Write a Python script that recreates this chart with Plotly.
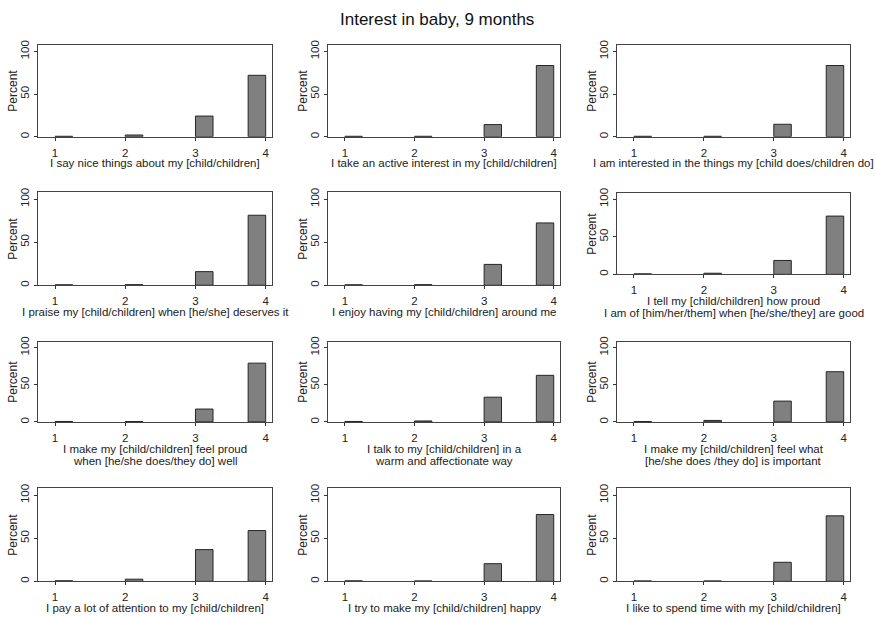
import plotly.graph_objects as go

# ---------------- data ----------------
chart_title = "Interest in baby, 9 months"
responses = [1, 2, 3, 4]
item_labels = [
    ["I say nice things about my [child/children]"],
    ["I take an active interest in my [child/children]"],
    ["I am interested in the things my [child does/children do]"],
    ["I praise my [child/children] when [he/she] deserves it"],
    ["I enjoy having my [child/children] around me"],
    ["I tell my [child/children] how proud", "I am of [him/her/them] when [he/she/they] are good"],
    ["I make my [child/children] feel proud", "when [he/she does/they do] well"],
    ["I talk to my [child/children] in a", "warm and affectionate way"],
    ["I make my [child/children] feel what", "[he/she does /they do] is important"],
    ["I pay a lot of attention to my [child/children]"],
    ["I try to make my [child/children] happy"],
    ["I like to spend time with my [child/children]"],
]
pct_resp1 = [0.5, 0.5, 0.5, 0.5, 0.5, 0.7, 0.6, 0.6, 0.5, 0.7, 0.6, 0.5]
pct_resp2 = [2.0, 0.5, 0.5, 0.7, 0.7, 1.5, 0.5, 1.3, 2.0, 2.5, 0.5, 0.5]
pct_resp3 = [24.2, 14.2, 14.6, 15.8, 24.2, 18.5, 17.3, 33.3, 28.0, 36.8, 20.5, 22.1]
pct_resp4 = [72.0, 83.5, 83.5, 81.2, 72.3, 77.5, 79.1, 62.7, 67.6, 58.9, 77.5, 76.0]
y_ticks = [0, 50, 100]

# histogram binning (Stata-style: start at min, width 0.25, 12 bins)
bin_start, bin_width, n_bins = 1.0, 0.25, 12


def bin_center(v):
    idx = min(int((v - bin_start) / bin_width), n_bins - 1)
    return bin_start + (idx + 0.5) * bin_width


# ---------------- layout geometry (pixels) ----------------
W, H = 875, 617
col_left = [38, 328, 617]
col_right = [272, 560, 850]
row_top = [40, 189, 340, 488]
row_bottom = [133, 283, 421, 582]
panel_bottom_override = {5: 272}
panel_top_override = {5: 190}

FONT = "Arial, Liberation Sans, sans-serif"
fig = go.Figure()
annotations = []

for i in range(12):
    r, c = divmod(i, 3)
    ax = "" if i == 0 else str(i + 1)
    top = panel_top_override.get(i, row_top[r])
    bottom = panel_bottom_override.get(i, row_bottom[r])
    vals = [pct_resp1[i], pct_resp2[i], pct_resp3[i], pct_resp4[i]]
    fig.add_trace(go.Bar(
        x=[bin_center(v) for v in responses], y=vals, width=bin_width,
        marker=dict(color="#808080", line=dict(color="#262626", width=1)),
        xaxis="x" + ax, yaxis="y" + ax, showlegend=False, hoverinfo="y",
    ))
    fig.layout["xaxis" + ax] = dict(
        domain=[col_left[c] / W, col_right[c] / W], anchor="y" + ax,
        range=[0.757, 4.09], tickvals=responses, ticks="outside", ticklen=3,
        ticklabelstandoff=2,
        tickcolor="#333", showline=True, linecolor="#444", mirror=True,
        showgrid=False, zeroline=False, fixedrange=True,
        tickfont=dict(family=FONT, size=11.5, color="#222"),
    )
    fig.layout["yaxis" + ax] = dict(
        domain=[1 - bottom / H, 1 - top / H], anchor="x" + ax,
        range=[0, 108], tickvals=y_ticks, ticks="outside", ticklen=3,
        tickcolor="#333", tickangle=-90, showline=True, linecolor="#444",
        mirror=True, showgrid=False, zeroline=False, fixedrange=True,
        tickfont=dict(family=FONT, size=11.5, color="#222"),
    )
    # y title
    annotations.append(dict(
        text="Percent", textangle=-90, xref="paper", yref="paper",
        x=(col_left[c] - 25) / W, y=1 - (top + bottom) / 2 / H,
        xanchor="center", yanchor="middle", showarrow=False,
        font=dict(family=FONT, size=12, color="#222"),
    ))
    # x title lines
    for k, line in enumerate(item_labels[i]):
        annotations.append(dict(
            text=line, xref="paper", yref="paper",
            x=(col_left[c] + col_right[c]) / 2 / W,
            y=1 - (bottom + 27 + 12 * k) / H,
            xanchor="center", yanchor="middle", showarrow=False, borderpad=0,
            font=dict(family=FONT, size=11.5, color="#222"),
        ))

annotations.append(dict(
    text=chart_title, xref="paper", yref="paper", x=437 / W, y=1 - 15 / H,
    xanchor="center", yanchor="middle", showarrow=False,
    font=dict(family=FONT, size=17, color="#111"),
))

fig.update_layout(
    width=W, height=H, margin=dict(l=0, r=0, t=0, b=0),
    paper_bgcolor="white", plot_bgcolor="white",
    annotations=annotations,
)
fig.write_html("out.html")
